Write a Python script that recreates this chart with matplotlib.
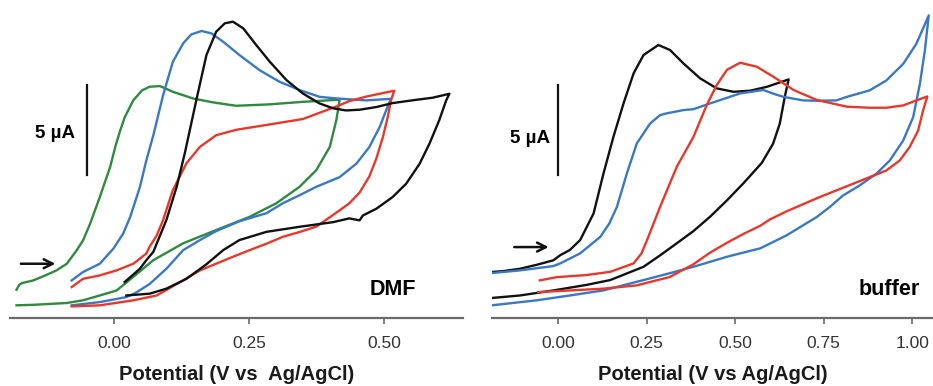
import numpy as np
import matplotlib.pyplot as plt

plt.rcParams['font.family'] = ['Liberation Sans', 'DejaVu Sans']

# ---- DMF panel: potential (V) and current (uA, arbitrary offset) ----
dmf_green_v = [-0.180, -0.175, -0.170, -0.149, -0.125, -0.106, -0.087, -0.069, -0.057, -0.044,
               -0.026, -0.007, 0.003, 0.011, 0.020, 0.036, 0.052, 0.066, 0.085, 0.109,
               0.146, 0.183, 0.226, 0.288, 0.349, 0.405, 0.417,
               0.414, 0.411, 0.399, 0.374, 0.343, 0.300, 0.251, 0.189, 0.128, 0.073,
               0.036, 0.005, -0.026, -0.057, -0.087, -0.149, -0.180]
dmf_green_i = [1.58, 1.85, 1.95, 2.10, 2.40, 2.66, 3.03, 3.77, 4.33, 5.26,
               6.75, 8.42, 9.60, 10.40, 11.20, 12.15, 12.70, 12.90, 12.94, 12.62,
               12.25, 12.03, 11.84, 11.92, 12.06, 12.16, 12.17,
               11.58, 11.04, 9.55, 8.25, 7.32, 6.40, 5.65, 4.91, 4.17, 3.23,
               2.30, 1.54, 1.26, 0.99, 0.84, 0.74, 0.71]

dmf_blue_v = [-0.078, -0.057, -0.026, -0.001, 0.017, 0.030, 0.048, 0.060, 0.073, 0.091,
              0.109, 0.128, 0.143, 0.162, 0.180, 0.202, 0.232, 0.269, 0.306, 0.343,
              0.380, 0.411, 0.466, 0.512,
              0.503, 0.491, 0.472, 0.448, 0.417, 0.374, 0.343, 0.312, 0.282, 0.232,
              0.189, 0.159, 0.128, 0.097, 0.066, 0.040, 0.023, -0.026, -0.078]
dmf_blue_i = [2.10, 2.57, 3.03, 3.87, 4.70, 5.63, 7.30, 8.80, 10.21, 12.44,
              14.30, 15.32, 15.82, 16.01, 15.88, 15.41, 14.67, 13.83, 13.18, 12.72,
              12.34, 12.25, 12.14, 12.23,
              11.58, 10.65, 9.54, 8.61, 7.86, 7.32, 6.85, 6.40, 5.85, 5.40,
              4.85, 4.35, 3.79, 2.75, 1.90, 1.40, 1.17, 0.89, 0.71]

dmf_red_v = [-0.078, -0.057, -0.026, 0.005, 0.036, 0.060, 0.066, 0.079, 0.091, 0.109,
             0.134, 0.159, 0.189, 0.226, 0.288, 0.349, 0.380, 0.411, 0.435, 0.466, 0.497, 0.518,
             0.512, 0.506, 0.497, 0.485, 0.472, 0.454, 0.435, 0.405, 0.374, 0.343,
             0.312, 0.282, 0.251, 0.220, 0.159, 0.128, 0.079, 0.036, -0.026, -0.078]
dmf_red_i = [1.73, 2.19, 2.38, 2.66, 3.03, 3.60, 3.98, 4.60, 5.47, 7.14,
             8.63, 9.55, 10.20, 10.50, 10.80, 11.10, 11.45, 11.80, 12.10, 12.35, 12.55, 12.68,
             12.14, 11.21, 10.09, 8.90, 7.90, 7.00, 6.40, 5.75, 5.10, 4.80,
             4.53, 4.15, 3.79, 3.42, 2.66, 2.10, 1.26, 0.99, 0.71, 0.65]

dmf_black_v = [0.020, 0.048, 0.060, 0.073, 0.097, 0.116, 0.131, 0.153, 0.171, 0.189,
               0.205, 0.220, 0.239, 0.263, 0.288, 0.319, 0.349, 0.380, 0.405, 0.429,
               0.454, 0.485, 0.515, 0.558, 0.589, 0.620,
               0.614, 0.601, 0.583, 0.565, 0.540, 0.515, 0.485, 0.460, 0.454, 0.435,
               0.405, 0.343, 0.282, 0.232, 0.202, 0.171, 0.134, 0.097, 0.066, 0.023]
dmf_black_i = [2.01, 2.75, 3.23, 3.70, 5.47, 7.32, 9.19, 12.25, 14.67, 15.97,
               16.44, 16.53, 16.16, 15.23, 14.30, 13.27, 12.53, 11.97, 11.70, 11.58,
               11.62, 11.77, 11.99, 12.17, 12.29, 12.51,
               12.14, 11.02, 9.72, 8.61, 7.49, 6.75, 6.10, 5.72, 5.45, 5.56,
               5.35, 5.09, 4.81, 4.35, 3.79, 3.00, 2.19, 1.64, 1.36, 1.26]

# ---- buffer panel ----
buf_black_v = [-0.188, -0.155, -0.108, -0.061, -0.014, 0.006, 0.033, 0.062, 0.100, 0.128,
               0.156, 0.185, 0.213, 0.241, 0.283, 0.316, 0.354, 0.401, 0.448, 0.495,
               0.542, 0.590, 0.651,
               0.640, 0.626, 0.607, 0.575, 0.523, 0.476, 0.429, 0.382, 0.335, 0.288,
               0.241, 0.147, 0.080, -0.014, -0.108, -0.188]
buf_black_i = [2.57, 2.62, 2.75, 2.97, 3.22, 3.51, 3.80, 4.35, 5.84, 8.07,
               10.11, 12.00, 13.65, 14.67, 15.23, 14.95, 14.20, 13.37, 12.81, 12.62,
               12.68, 12.90, 13.31,
               12.32, 10.84, 9.72, 8.65, 7.51, 6.55, 5.65, 4.85, 4.17, 3.50,
               2.86, 2.12, 1.85, 1.54, 1.26, 1.12]

buf_blue_v = [-0.188, -0.108, -0.014, 0.006, 0.062, 0.119, 0.145, 0.166, 0.194, 0.222,
              0.260, 0.288, 0.307, 0.354, 0.382, 0.429, 0.514, 0.580, 0.610, 0.636,
              0.692, 0.731, 0.786, 0.816, 0.880, 0.927, 0.975, 1.012, 1.047,
              1.036, 1.022, 1.003, 0.975, 0.937, 0.899, 0.852, 0.805, 0.767, 0.730,
              0.645, 0.571, 0.477, 0.382, 0.315, 0.241, 0.127, 0.033, -0.061, -0.188]
buf_blue_i = [2.51, 2.66, 2.90, 3.05, 3.61, 4.53, 5.30, 6.21, 8.07, 9.74,
              10.86, 11.32, 11.42, 11.60, 11.65, 11.97, 12.53, 12.72, 12.50, 12.34,
              12.14, 12.12, 12.14, 12.34, 12.70, 13.25, 14.18, 15.30, 16.88,
              14.93, 13.07, 11.21, 9.91, 8.79, 8.05, 7.40, 6.84, 6.19, 5.63,
              4.61, 3.89, 3.42, 2.86, 2.50, 2.12, 1.54, 1.26, 0.99, 0.71]

buf_red_v = [-0.052, -0.005, 0.080, 0.147, 0.213, 0.235, 0.251, 0.288, 0.335, 0.382,
             0.420, 0.448, 0.477, 0.514, 0.561, 0.608, 0.665, 0.731, 0.816, 0.880,
             0.927, 0.975, 1.012, 1.043,
             1.031, 1.017, 0.993, 0.965, 0.927, 0.880, 0.833, 0.786, 0.739, 0.692,
             0.645, 0.598, 0.571, 0.524, 0.477, 0.429, 0.382, 0.315, 0.221, 0.127, 0.033, -0.057]
buf_red_i = [2.10, 2.28, 2.40, 2.58, 3.05, 3.60, 4.35, 6.21, 8.44, 10.10,
             11.90, 13.00, 13.85, 14.24, 14.02, 13.46, 12.72, 12.16, 11.79, 11.73,
             11.73, 11.86, 12.14, 12.36,
             11.58, 10.46, 9.54, 8.79, 8.23, 7.86, 7.49, 7.12, 6.75, 6.35,
             5.95, 5.50, 5.15, 4.70, 4.20, 3.65, 3.00, 2.29, 1.82, 1.64, 1.54, 1.45]

dmf_ticks = [0.00, 0.25, 0.50]
buf_ticks = [0.00, 0.25, 0.50, 0.75, 1.00]

BLACK = '#111111'
BLUE = '#3a78c6'
RED = '#e8382c'
GREEN = '#2f8a3f'


def style_axis(ax, ticks):
    for s in ['top', 'right', 'left']:
        ax.spines[s].set_visible(False)
    ax.spines['bottom'].set_color('#6a6a6a')
    ax.spines['bottom'].set_linewidth(1.6)
    ax.set_yticks([])
    ax.set_xticks(ticks)
    ax.set_xticklabels(['{:.2f}'.format(t) for t in ticks])
    ax.tick_params(axis='x', direction='out', length=4, width=1.2, color='#6a6a6a',
                   labelsize=12.5, labelcolor='#333333', pad=9)
    ax.set_ylim(0, 17.18)


fig = plt.figure(figsize=(9.33, 3.86), dpi=100)
ax1 = fig.add_axes([0.0107, 0.176, 0.4855, 0.798])
ax2 = fig.add_axes([0.527, 0.176, 0.473, 0.798])

kw = dict(lw=1.7, solid_joinstyle='round')
ax1.plot(dmf_green_v, dmf_green_i, color=GREEN, **kw)
ax1.plot(dmf_blue_v, dmf_blue_i, color=BLUE, **kw)
ax1.plot(dmf_red_v, dmf_red_i, color=RED, **kw)
ax1.plot(dmf_black_v, dmf_black_i, color=BLACK, **kw)
ax1.set_xlim(-0.192, 0.645)
style_axis(ax1, dmf_ticks)
ax1.set_xlabel('Potential (V vs  Ag/AgCl)', fontsize=14.5, fontweight='bold',
               color='#1a1a1a', labelpad=10)
ax1.plot([-0.049, -0.049], [8.0, 13.0], color=BLACK, lw=1.6)
ax1.text(-0.072, 10.3, '5 µA', fontsize=13.5, fontweight='bold', ha='right', va='center')
ax1.annotate('', xy=(-0.103, 3.03), xytext=(-0.177, 3.03),
             arrowprops=dict(arrowstyle='->', color=BLACK, lw=1.8, mutation_scale=16))
ax1.text(0.558, 1.26, 'DMF', fontsize=15.5, fontweight='bold', ha='right', va='baseline')

ax2.plot(buf_black_v, buf_black_i, color=BLACK, **kw)
ax2.plot(buf_blue_v, buf_blue_i, color=BLUE, **kw)
ax2.plot(buf_red_v, buf_red_i, color=RED, **kw)
ax2.set_xlim(-0.188, 1.059)
style_axis(ax2, buf_ticks)
ax2.set_xlabel('Potential (V vs Ag/AgCl)', fontsize=14.5, fontweight='bold',
               color='#1a1a1a', labelpad=10)
ax2.plot([0.0, 0.0], [8.0, 13.0], color=BLACK, lw=1.6)
ax2.text(-0.024, 10.0, '5 µA', fontsize=13.5, fontweight='bold', ha='right', va='center')
ax2.annotate('', xy=(-0.019, 3.96), xytext=(-0.132, 3.96),
             arrowprops=dict(arrowstyle='->', color=BLACK, lw=1.8, mutation_scale=16))
ax2.text(1.022, 1.26, 'buffer', fontsize=15.5, fontweight='bold', ha='right', va='baseline')

fig.savefig('out.png', dpi=100)
